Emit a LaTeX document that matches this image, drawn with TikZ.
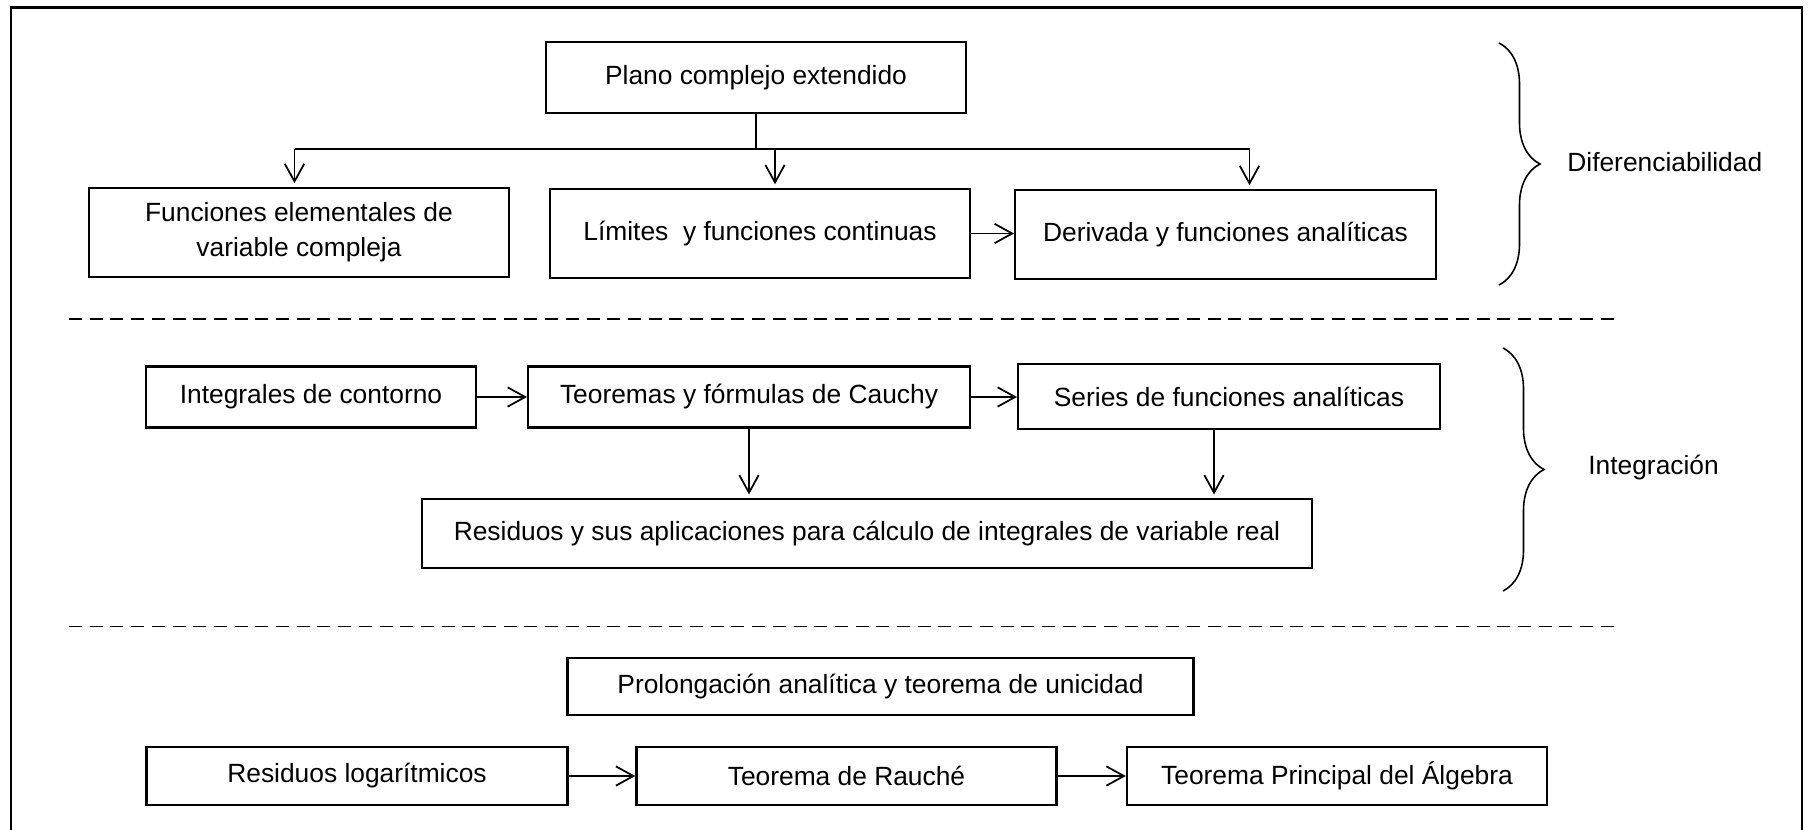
\documentclass[tikz,border=0pt]{standalone}
\usepackage{fontspec}
\setmainfont{Liberation Sans}
\usepackage{tikz}
\usetikzlibrary{arrows.meta}
\usetikzlibrary{calc}
\usetikzlibrary{decorations,decorations.pathreplacing}
\tikzset{
	box line/.style={line width=1.4pt}
}
\tikzstyle{caja}=[draw, box line, rectangle, inner sep=0pt, align=center, font=\fontsize{15}{20}\selectfont]
\tikzstyle{etiqueta}=[inner sep=0pt, font=\fontsize{15}{20}\selectfont]
\tikzstyle{linea}=[line width=1pt]
\tikzstyle{flecha}=[line width=1pt, -{Straight Barb[length=10pt,width=11pt,line width=1pt]}]
\tikzstyle{separador}=[line width=1.1pt, dash pattern=on .26cm off .154cm]
\tikzstyle{llave}=[line width=.9pt, decorate, decoration={brace, amplitude=.82cm}]
\newcommand{\cajaNbox}[5]{
	\node[caja, minimum width=#3cm, minimum height=#4cm] (#1) at #2 {#5};
}

\begin{document}
\begin{tikzpicture}
	\useasboundingbox (0,0) rectangle (36.16,-16.6);
	\draw[line width=1.2pt] (.22,-16.6) -- (.22,-.15) -- (36.04,-.15) -- (36.04,-16.6);
	% diferenciabilidad
	\cajaNbox{plano}{(15.12,-1.55)}{8.4}{1.42}{Plano complejo extendido}
	\cajaNbox{func}{(5.98,-4.65)}{8.39}{1.78}{Funciones elementales de\\variable compleja}
	\cajaNbox{lim}{(15.2,-4.67)}{8.4}{1.78}{Límites\ \ y funciones continuas}
	\cajaNbox{deriv}{(24.51,-4.69)}{8.41}{1.78}{Derivada y funciones analíticas}
	\coordinate (hl) at (5.89,-2.98);
	\coordinate (hm) at (15.5,-2.98);
	\coordinate (hr) at (24.99,-2.98);
	\draw[linea] (plano.south) -- (plano.south |- hm);
	\draw[linea] (hl) -- (hr);
	\draw[flecha, shorten >=2pt] (hl) -- (hl |- func.north);
	\draw[flecha, shorten >=2pt] (hm) -- (hm |- lim.north);
	\draw[flecha, shorten >=2pt] (hr) -- (hr |- deriv.north);
	\draw[flecha] (lim.east) -- (deriv.west |- lim.east);
	\draw[separador] (1.38,-6.38) -- (32.3,-6.38);
	% integracion
	\cajaNbox{integ}{(6.22,-7.94)}{6.61}{1.22}{Integrales de contorno}
	\cajaNbox{teor}{(14.98,-7.94)}{8.83}{1.22}{Teoremas y fórmulas de Cauchy}
	\cajaNbox{series}{(24.58,-7.93)}{8.43}{1.30}{Series de funciones analíticas}
	\cajaNbox{resid}{(17.34,-10.67)}{17.79}{1.37}{Residuos y sus aplicaciones para cálculo de integrales de variable real}
	\draw[flecha] (integ.east) -- (teor.west);
	\draw[flecha] (teor.east) -- (series.west |- teor.east);
	\draw[flecha, shorten >=2pt] (teor.south) -- (teor.south |- resid.north);
	\draw[flecha, shorten >=2pt] ($(series.south)+(-.3,0)$) -- ($(series.south |- resid.north)+(-.3,0)$);
	\draw[separador] (1.38,-12.53) -- (32.3,-12.53);
	% llaves
	\draw[llave] (29.98,-.86) -- (29.98,-5.7);
	\draw[llave] (30.06,-6.96) -- (30.06,-11.82);
	\node[etiqueta, anchor=west] (difer) at (31.34,-3.24) {Diferenciabilidad};
	\node[etiqueta, anchor=west] (integr) at (31.76,-9.36) {Integración};
	% ultima parte
	\cajaNbox{prolong}{(17.61,-13.73)}{12.52}{1.14}{Prolongación analítica y teorema de unicidad}
	\cajaNbox{reslog}{(7.14,-15.52)}{8.42}{1.16}{Residuos logarítmicos}
	\cajaNbox{rauche}{(16.93,-15.52)}{8.4}{1.16}{Teorema de Rauché}
	\cajaNbox{tpa}{(26.74,-15.52)}{8.4}{1.16}{Teorema Principal del Álgebra}
	\draw[flecha] (reslog.east) -- (rauche.west);
	\draw[flecha] (rauche.east) -- (tpa.west);
\end{tikzpicture}
\end{document}
